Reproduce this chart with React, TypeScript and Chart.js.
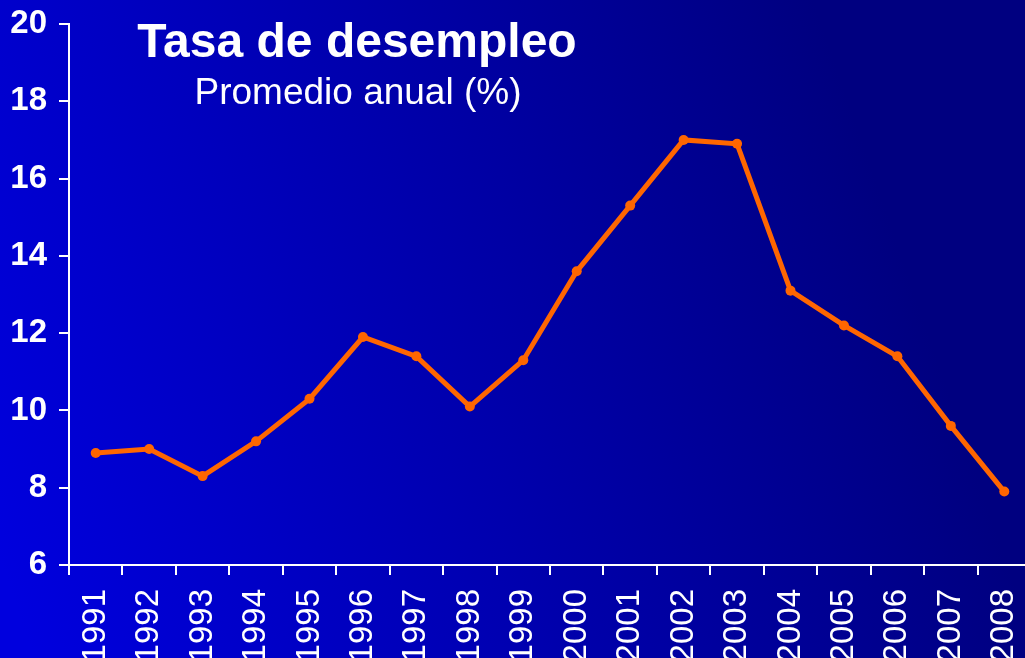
import React, { useEffect, useRef } from "react";
import { Chart, registerables } from "chart.js";

Chart.register(...registerables);

const years = ["1991","1992","1993","1994","1995","1996","1997","1998","1999","2000","2001","2002","2003","2004","2005","2006","2007","2008"];
const unemployment = [8.9, 9.0, 8.3, 9.2, 10.3, 11.9, 11.4, 10.1, 11.3, 13.6, 15.3, 17.0, 16.9, 13.1, 12.2, 11.4, 9.6, 7.9];
const yMin = 6;
const yMax = 20;
const yStep = 2;
const titleText = "Tasa de desempleo";
const subtitleText = "Promedio anual (%)";

const FONT = '"Liberation Sans", Arial, sans-serif';

const bgPlugin = {
  id: "bgGradient",
  beforeDraw(chart: any) {
    const ctx = chart.ctx;
    const g = ctx.createLinearGradient(0, 560, 900, 250);
    g.addColorStop(0, "#0000DE");
    g.addColorStop(1, "#000080");
    ctx.save();
    ctx.fillStyle = g;
    ctx.fillRect(0, 0, chart.width, chart.height);
    ctx.restore();
  },
};

const titlePlugin = {
  id: "titleText",
  afterDraw(chart: any) {
    const ctx = chart.ctx;
    ctx.save();
    ctx.fillStyle = "#FFFFFF";
    ctx.textAlign = "center";
    ctx.textBaseline = "alphabetic";
    ctx.font = `bold 48px ${FONT}`;
    ctx.fillText(titleText, 357, 57);
    ctx.font = `37px ${FONT}`;
    ctx.fillText(subtitleText, 358, 104);
    ctx.restore();
  },
};

export default function App() {
  const ref = useRef<HTMLCanvasElement | null>(null);
  useEffect(() => {
    if (!ref.current) return;
    const chart = new Chart(ref.current, {
      type: "line",
      data: {
        labels: years,
        datasets: [
          {
            data: unemployment,
            borderColor: "#FF6600",
            backgroundColor: "#FF6600",
            borderWidth: 5,
            pointRadius: 5,
            pointBorderWidth: 0,
            pointBackgroundColor: "#FF6600",
            tension: 0,
          },
        ],
      },
      options: {
        animation: false,
        responsive: false,
        devicePixelRatio: 1,
        layout: { padding: { top: 24, right: 29, left: 0, bottom: 0 } },
        plugins: { legend: { display: false }, tooltip: { enabled: false }, title: { display: false } },
        scales: {
          x: {
            type: "category",
            offset: true,
            grid: { offset: true, drawOnChartArea: false, drawTicks: true, tickLength: 10, color: "#FFFFFF", lineWidth: 2 },
            border: { color: "#FFFFFF", width: 2 },
            ticks: {
              color: "#FFFFFF",
              font: { size: 33, family: FONT },
              minRotation: 90,
              maxRotation: 90,
              padding: 14,
              autoSkip: false,
            },
            afterFit(scale: any) {
              scale.height = 93;
              scale.paddingLeft = 0;
              scale.paddingRight = 0;
            },
          },
          y: {
            min: yMin,
            max: yMax,
            grid: { drawOnChartArea: false, drawTicks: true, tickLength: 10, color: "#FFFFFF", lineWidth: 2 },
            border: { color: "#FFFFFF", width: 2 },
            ticks: {
              stepSize: yStep,
              color: "#FFFFFF",
              font: { size: 33, family: FONT, weight: "bold" },
              padding: 12,
            },
            afterFit(scale: any) {
              scale.width = 69;
              scale.paddingTop = 0;
              scale.paddingBottom = 0;
            },
          },
        },
      },
      plugins: [bgPlugin, titlePlugin],
    });
    return () => chart.destroy();
  }, []);

  return (
    <div style={{ position: "fixed", left: 0, top: 0, width: 1025, height: 658, overflow: "hidden" }}>
      <canvas ref={ref} width={1060} height={658} style={{ width: 1060, height: 658, display: "block" }} />
    </div>
  );
}
